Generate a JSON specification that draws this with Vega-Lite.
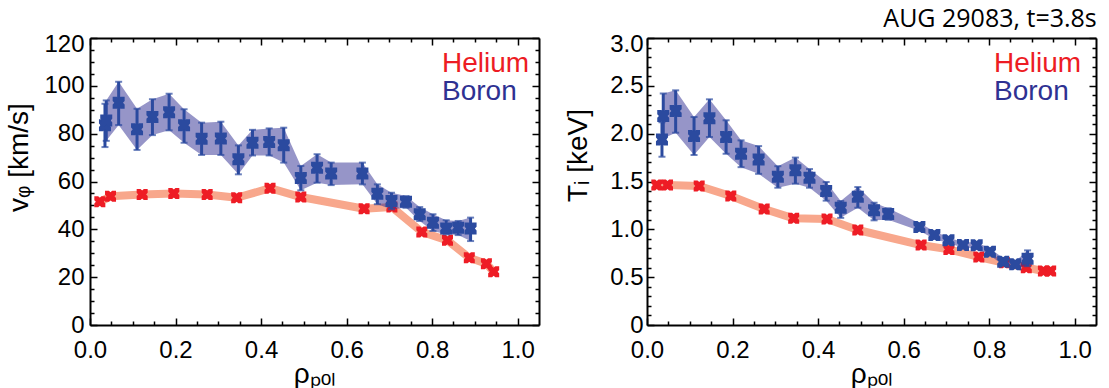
{
  "$schema": "https://vega.github.io/schema/vega-lite/v6.json",
  "background": "white",
  "padding": {"left": 5, "top": 7, "right": 6, "bottom": 2},
  "title": {"text": "AUG 29083, t=3.8s", "anchor": "end", "font": "Open Sans", "fontSize": 25, "fontWeight": "normal", "color": "black", "offset": 0},
  "data": {"values": [
    {"species": "Helium", "rho": 0.023, "v": 51.5, "T": 1.463},
    {"species": "Helium", "rho": 0.048, "v": 53.8, "T": 1.463},
    {"species": "Helium", "rho": 0.122, "v": 54.6, "T": 1.453},
    {"species": "Helium", "rho": 0.196, "v": 55.0, "T": 1.348},
    {"species": "Helium", "rho": 0.274, "v": 54.6, "T": 1.212},
    {"species": "Helium", "rho": 0.343, "v": 53.2, "T": 1.115},
    {"species": "Helium", "rho": 0.421, "v": 57.2, "T": 1.108},
    {"species": "Helium", "rho": 0.493, "v": 53.5, "T": 0.993},
    {"species": "Helium", "rho": 0.641, "v": 48.6, "T": 0.836},
    {"species": "Helium", "rho": 0.706, "v": 49.3, "T": 0.790},
    {"species": "Helium", "rho": 0.776, "v": 38.9, "T": 0.711},
    {"species": "Helium", "rho": 0.836, "v": 35.4, "T": 0.650},
    {"species": "Helium", "rho": 0.887, "v": 28.1, "T": 0.599},
    {"species": "Helium", "rho": 0.927, "v": 25.6, "T": 0.564},
    {"species": "Helium", "rho": 0.944, "v": 22.3, "T": 0.564},
    {"species": "Boron", "rho": 0.035, "v": 83.5, "vlo": 74.4, "vhi": 92.5, "T": 1.94, "Tlo": 1.76, "Thi": 2.12},
    {"species": "Boron", "rho": 0.038, "v": 85.5, "vlo": 77.0, "vhi": 93.9, "T": 2.185, "Tlo": 1.95, "Thi": 2.42},
    {"species": "Boron", "rho": 0.067, "v": 92.9, "vlo": 83.6, "vhi": 101.7, "T": 2.237, "Tlo": 2.01, "Thi": 2.453},
    {"species": "Boron", "rho": 0.110, "v": 81.8, "vlo": 73.2, "vhi": 90.4, "T": 1.976, "Tlo": 1.777, "Thi": 2.174},
    {"species": "Boron", "rho": 0.146, "v": 87.0, "vlo": 79.4, "vhi": 94.4, "T": 2.16, "Tlo": 1.965, "Thi": 2.359},
    {"species": "Boron", "rho": 0.185, "v": 89.0, "vlo": 81.4, "vhi": 96.7, "T": 1.965, "Tlo": 1.79, "Thi": 2.14},
    {"species": "Boron", "rho": 0.220, "v": 83.5, "vlo": 76.2, "vhi": 90.2, "T": 1.79, "Tlo": 1.65, "Thi": 1.93},
    {"species": "Boron", "rho": 0.261, "v": 77.9, "vlo": 71.1, "vhi": 84.6, "T": 1.73, "Tlo": 1.58, "Thi": 1.87},
    {"species": "Boron", "rho": 0.306, "v": 78.0, "vlo": 71.1, "vhi": 85.0, "T": 1.55, "Tlo": 1.435, "Thi": 1.66},
    {"species": "Boron", "rho": 0.347, "v": 69.3, "vlo": 63.0, "vhi": 75.1, "T": 1.617, "Tlo": 1.477, "Thi": 1.75},
    {"species": "Boron", "rho": 0.380, "v": 76.2, "vlo": 70.9, "vhi": 81.6, "T": 1.54, "Tlo": 1.435, "Thi": 1.63},
    {"species": "Boron", "rho": 0.419, "v": 76.5, "vlo": 70.9, "vhi": 82.2, "T": 1.40, "Tlo": 1.30, "Thi": 1.495},
    {"species": "Boron", "rho": 0.453, "v": 75.2, "vlo": 67.9, "vhi": 82.5, "T": 1.226, "Tlo": 1.12, "Thi": 1.296},
    {"species": "Boron", "rho": 0.493, "v": 61.5, "vlo": 56.3, "vhi": 66.5, "T": 1.34, "Tlo": 1.226, "Thi": 1.442},
    {"species": "Boron", "rho": 0.531, "v": 65.8, "vlo": 59.5, "vhi": 71.4, "T": 1.199, "Tlo": 1.094, "Thi": 1.278},
    {"species": "Boron", "rho": 0.564, "v": 63.3, "vlo": 58.5, "vhi": 67.9, "T": 1.16, "Tlo": 1.10, "Thi": 1.22},
    {"species": "Boron", "rho": 0.637, "v": 63.3, "vlo": 58.8, "vhi": 67.9, "T": 1.024, "Tlo": 0.985, "Thi": 1.065},
    {"species": "Boron", "rho": 0.672, "v": 54.9, "vlo": 50.5, "vhi": 58.8, "T": 0.941, "Tlo": 0.90, "Thi": 0.98},
    {"species": "Boron", "rho": 0.705, "v": 51.8, "vlo": 48.4, "vhi": 55.3, "T": 0.885, "Tlo": 0.855, "Thi": 0.915},
    {"species": "Boron", "rho": 0.739, "v": 51.5, "vlo": 49.0, "vhi": 53.9, "T": 0.836, "Tlo": 0.81, "Thi": 0.865},
    {"species": "Boron", "rho": 0.771, "v": 46.3, "vlo": 43.5, "vhi": 49.3, "T": 0.833, "Tlo": 0.80, "Thi": 0.865},
    {"species": "Boron", "rho": 0.802, "v": 42.8, "vlo": 39.3, "vhi": 46.3, "T": 0.766, "Tlo": 0.73, "Thi": 0.80},
    {"species": "Boron", "rho": 0.833, "v": 40.4, "vlo": 37.9, "vhi": 43.8, "T": 0.662, "Tlo": 0.625, "Thi": 0.70},
    {"species": "Boron", "rho": 0.861, "v": 40.7, "vlo": 37.6, "vhi": 43.5, "T": 0.634, "Tlo": 0.605, "Thi": 0.665},
    {"species": "Boron", "rho": 0.890, "v": 40.3, "vlo": 35.1, "vhi": 44.9, "T": 0.693, "Tlo": 0.615, "Thi": 0.78}
  ]},
  "bounds": "flush",
  "spacing": 108,
  "resolve": {"scale": {"color": "independent"}},
  "hconcat": [
    {
      "width": 449, "height": 287,
      "resolve": {"axis": {"x": "independent", "y": "independent"}},
      "layer": [
        {
          "transform": [{"filter": "datum.species === 'Helium'"}],
          "mark": {"type": "line", "color": "#f8a78c", "strokeWidth": 8, "strokeJoin": "round"},
          "encoding": {
            "x": {"field": "rho", "type": "quantitative", "scale": {"domain": [0, 1.05], "nice": false, "zero": false},
              "axis": {"orient": "bottom", "values": [0, 0.2, 0.4, 0.6, 0.8, 1.0], "format": ".1f", "tickSize": -7, "labelPadding": 20, "labelFlush": false, "title": "ρₚₒₗ", "titlePadding": -2}},
            "y": {"field": "v", "type": "quantitative", "scale": {"domain": [0, 120], "nice": false},
              "axis": {"orient": "left", "values": [0, 20, 40, 60, 80, 100, 120], "format": "d", "tickSize": -7, "labelPadding": 13, "labelOffset": {"expr": "datum.value == 120 ? 6 : 0"}, "title": "vᵩ [km/s]", "titlePadding": 10, "titleY": 119}}
          }
        },
        {
          "transform": [{"filter": "datum.species === 'Helium'"}],
          "mark": {"type": "point", "filled": true, "opacity": 1, "size": 121, "shape": "M-1,-1L-0.3,-1L0,-0.72L0.3,-1L1,-1L1,-0.3L0.72,0L1,0.3L1,1L0.3,1L0,0.72L-0.3,1L-1,1L-1,0.3L-0.72,0L-1,-0.3Z"},
          "encoding": {
            "x": {"field": "rho", "type": "quantitative",
              "axis": {"orient": "bottom", "values": [0.05, 0.1, 0.15, 0.25, 0.3, 0.35, 0.45, 0.5, 0.55, 0.65, 0.7, 0.75, 0.85, 0.9, 0.95], "tickSize": -4, "labels": false, "domain": false, "title": null}},
            "y": {"field": "v", "type": "quantitative",
              "axis": {"orient": "left", "values": [5, 10, 15, 25, 30, 35, 45, 50, 55, 65, 70, 75, 85, 90, 95, 105, 110, 115], "tickSize": -4, "labels": false, "domain": false, "title": null}},
            "color": {"field": "species", "type": "nominal", "scale": {"domain": ["Helium", "Boron"], "range": ["#ee1c25", "#2b4a9f"]},
              "legend": {"orient": "none", "legendX": 324, "legendY": 12, "title": null, "symbolSize": 0, "symbolOpacity": 0, "symbolStrokeWidth": 0, "labelOffset": 0, "padding": 0, "rowPadding": -2, "labelFont": "Liberation Sans", "labelFontSize": 28, "labelColor": {"expr": "datum.value === 'Helium' ? '#ed1c24' : '#2e3192'"}}}
          }
        },
        {
          "transform": [{"filter": "datum.species === 'Boron'"}],
          "mark": {"type": "area", "color": "#2d2b92", "opacity": 0.5},
          "encoding": {
            "x": {"field": "rho", "type": "quantitative",
              "axis": {"orient": "top", "values": [0, 0.2, 0.4, 0.6, 0.8, 1.0], "tickSize": -7, "labels": false, "title": null}},
            "y": {"field": "vlo", "type": "quantitative",
              "axis": {"orient": "right", "values": [0, 20, 40, 60, 80, 100, 120], "tickSize": -7, "labels": false, "title": null}},
            "y2": {"field": "vhi"}
          }
        },
        {
          "transform": [{"filter": "datum.species === 'Boron'"}],
          "mark": {"type": "rule", "color": "#2b4a9f", "strokeWidth": 3},
          "encoding": {
            "x": {"field": "rho", "type": "quantitative",
              "axis": {"orient": "top", "values": [0.05, 0.1, 0.15, 0.25, 0.3, 0.35, 0.45, 0.5, 0.55, 0.65, 0.7, 0.75, 0.85, 0.9, 0.95], "tickSize": -4, "labels": false, "domain": false, "title": null}},
            "y": {"field": "vlo", "type": "quantitative",
              "axis": {"orient": "right", "values": [5, 10, 15, 25, 30, 35, 45, 50, 55, 65, 70, 75, 85, 90, 95, 105, 110, 115], "tickSize": -4, "labels": false, "domain": false, "title": null}},
            "y2": {"field": "vhi"}
          }
        },
        {
          "transform": [{"filter": "datum.species === 'Boron'"}],
          "mark": {"type": "tick", "orient": "horizontal", "color": "#2b4a9f", "size": 7, "thickness": 2},
          "encoding": {
            "x": {"field": "rho", "type": "quantitative", "axis": null},
            "y": {"field": "vlo", "type": "quantitative", "axis": null}
          }
        },
        {
          "transform": [{"filter": "datum.species === 'Boron'"}],
          "mark": {"type": "tick", "orient": "horizontal", "color": "#2b4a9f", "size": 7, "thickness": 2},
          "encoding": {
            "x": {"field": "rho", "type": "quantitative", "axis": null},
            "y": {"field": "vhi", "type": "quantitative", "axis": null}
          }
        },
        {
          "transform": [{"filter": "datum.species === 'Boron'"}],
          "mark": {"type": "point", "filled": true, "opacity": 1, "size": 144, "shape": "M-1,-1L-0.3,-1L0,-0.72L0.3,-1L1,-1L1,-0.3L0.72,0L1,0.3L1,1L0.3,1L0,0.72L-0.3,1L-1,1L-1,0.3L-0.72,0L-1,-0.3Z"},
          "encoding": {
            "x": {"field": "rho", "type": "quantitative", "axis": null},
            "y": {"field": "v", "type": "quantitative", "axis": null},
            "color": {"field": "species", "type": "nominal", "scale": {"domain": ["Helium", "Boron"], "range": ["#ee1c25", "#2b4a9f"]},
              "legend": {"orient": "none", "legendX": 324, "legendY": 12, "title": null, "symbolSize": 0, "symbolOpacity": 0, "symbolStrokeWidth": 0, "labelOffset": 0, "padding": 0, "rowPadding": -2, "labelFont": "Liberation Sans", "labelFontSize": 28, "labelColor": {"expr": "datum.value === 'Helium' ? '#ed1c24' : '#2e3192'"}}}
          }
        }
      ]
    },
    {
      "width": 449, "height": 287,
      "resolve": {"axis": {"x": "independent", "y": "independent"}},
      "layer": [
        {
          "transform": [{"filter": "datum.species === 'Helium'"}],
          "mark": {"type": "line", "color": "#f8a78c", "strokeWidth": 8, "strokeJoin": "round"},
          "encoding": {
            "x": {"field": "rho", "type": "quantitative", "scale": {"domain": [0, 1.05], "nice": false, "zero": false},
              "axis": {"orient": "bottom", "values": [0, 0.2, 0.4, 0.6, 0.8, 1.0], "format": ".1f", "tickSize": -7, "labelPadding": 20, "labelFlush": false, "title": "ρₚₒₗ", "titlePadding": -2}},
            "y": {"field": "T", "type": "quantitative", "scale": {"domain": [0, 3], "nice": false},
              "axis": {"orient": "left", "values": [0, 0.5, 1.0, 1.5, 2.0, 2.5, 3.0], "labelExpr": "datum.value == 0 ? '0' : format(datum.value, '.1f')", "tickSize": -7, "labelPadding": 11, "labelOffset": {"expr": "datum.value == 3 ? 6 : 0"}, "title": "Tᵢ [keV]", "titlePadding": 17, "titleY": 117}}
          }
        },
        {
          "transform": [{"filter": "datum.species === 'Helium'"}],
          "mark": {"type": "point", "filled": true, "opacity": 1, "size": 121, "shape": "M-1,-1L-0.3,-1L0,-0.72L0.3,-1L1,-1L1,-0.3L0.72,0L1,0.3L1,1L0.3,1L0,0.72L-0.3,1L-1,1L-1,0.3L-0.72,0L-1,-0.3Z"},
          "encoding": {
            "x": {"field": "rho", "type": "quantitative",
              "axis": {"orient": "bottom", "values": [0.05, 0.1, 0.15, 0.25, 0.3, 0.35, 0.45, 0.5, 0.55, 0.65, 0.7, 0.75, 0.85, 0.9, 0.95], "tickSize": -4, "labels": false, "domain": false, "title": null}},
            "y": {"field": "T", "type": "quantitative",
              "axis": {"orient": "left", "values": [0.1, 0.2, 0.3, 0.4, 0.6, 0.7, 0.8, 0.9, 1.1, 1.2, 1.3, 1.4, 1.6, 1.7, 1.8, 1.9, 2.1, 2.2, 2.3, 2.4, 2.6, 2.7, 2.8, 2.9], "tickSize": -4, "labels": false, "domain": false, "title": null}},
            "color": {"field": "species", "type": "nominal", "scale": {"domain": ["Helium", "Boron"], "range": ["#ee1c25", "#2b4a9f"]},
              "legend": {"orient": "none", "legendX": 319, "legendY": 12, "title": null, "symbolSize": 0, "symbolOpacity": 0, "symbolStrokeWidth": 0, "labelOffset": 0, "padding": 0, "rowPadding": -2, "labelFont": "Liberation Sans", "labelFontSize": 28, "labelColor": {"expr": "datum.value === 'Helium' ? '#ed1c24' : '#2e3192'"}}}
          }
        },
        {
          "transform": [{"filter": "datum.species === 'Boron'"}],
          "mark": {"type": "area", "color": "#2d2b92", "opacity": 0.5},
          "encoding": {
            "x": {"field": "rho", "type": "quantitative",
              "axis": {"orient": "top", "values": [0, 0.2, 0.4, 0.6, 0.8, 1.0], "tickSize": -7, "labels": false, "title": null}},
            "y": {"field": "Tlo", "type": "quantitative",
              "axis": {"orient": "right", "values": [0, 0.5, 1.0, 1.5, 2.0, 2.5, 3.0], "tickSize": -7, "labels": false, "title": null}},
            "y2": {"field": "Thi"}
          }
        },
        {
          "transform": [{"filter": "datum.species === 'Boron'"}],
          "mark": {"type": "rule", "color": "#2b4a9f", "strokeWidth": 3},
          "encoding": {
            "x": {"field": "rho", "type": "quantitative",
              "axis": {"orient": "top", "values": [0.05, 0.1, 0.15, 0.25, 0.3, 0.35, 0.45, 0.5, 0.55, 0.65, 0.7, 0.75, 0.85, 0.9, 0.95], "tickSize": -4, "labels": false, "domain": false, "title": null}},
            "y": {"field": "Tlo", "type": "quantitative",
              "axis": {"orient": "right", "values": [0.1, 0.2, 0.3, 0.4, 0.6, 0.7, 0.8, 0.9, 1.1, 1.2, 1.3, 1.4, 1.6, 1.7, 1.8, 1.9, 2.1, 2.2, 2.3, 2.4, 2.6, 2.7, 2.8, 2.9], "tickSize": -4, "labels": false, "domain": false, "title": null}},
            "y2": {"field": "Thi"}
          }
        },
        {
          "transform": [{"filter": "datum.species === 'Boron'"}],
          "mark": {"type": "tick", "orient": "horizontal", "color": "#2b4a9f", "size": 7, "thickness": 2},
          "encoding": {
            "x": {"field": "rho", "type": "quantitative", "axis": null},
            "y": {"field": "Tlo", "type": "quantitative", "axis": null}
          }
        },
        {
          "transform": [{"filter": "datum.species === 'Boron'"}],
          "mark": {"type": "tick", "orient": "horizontal", "color": "#2b4a9f", "size": 7, "thickness": 2},
          "encoding": {
            "x": {"field": "rho", "type": "quantitative", "axis": null},
            "y": {"field": "Thi", "type": "quantitative", "axis": null}
          }
        },
        {
          "transform": [{"filter": "datum.species === 'Boron'"}],
          "mark": {"type": "point", "filled": true, "opacity": 1, "size": 144, "shape": "M-1,-1L-0.3,-1L0,-0.72L0.3,-1L1,-1L1,-0.3L0.72,0L1,0.3L1,1L0.3,1L0,0.72L-0.3,1L-1,1L-1,0.3L-0.72,0L-1,-0.3Z"},
          "encoding": {
            "x": {"field": "rho", "type": "quantitative", "axis": null},
            "y": {"field": "T", "type": "quantitative", "axis": null},
            "color": {"field": "species", "type": "nominal", "scale": {"domain": ["Helium", "Boron"], "range": ["#ee1c25", "#2b4a9f"]},
              "legend": {"orient": "none", "legendX": 319, "legendY": 12, "title": null, "symbolSize": 0, "symbolOpacity": 0, "symbolStrokeWidth": 0, "labelOffset": 0, "padding": 0, "rowPadding": -2, "labelFont": "Liberation Sans", "labelFontSize": 28, "labelColor": {"expr": "datum.value === 'Helium' ? '#ed1c24' : '#2e3192'"}}}
          }
        }
      ]
    }
  ],
  "config": {
    "view": {"stroke": null},
    "axis": {"grid": false, "domainColor": "#000000", "domainWidth": 2, "tickColor": "#000000", "tickWidth": 1.5, "labelFont": "Liberation Sans", "labelFontSize": 24, "labelColor": "#000000", "titleFont": "Liberation Sans", "titleFontSize": 28, "titleFontWeight": "normal", "titleColor": "#000000"}
  }
}
